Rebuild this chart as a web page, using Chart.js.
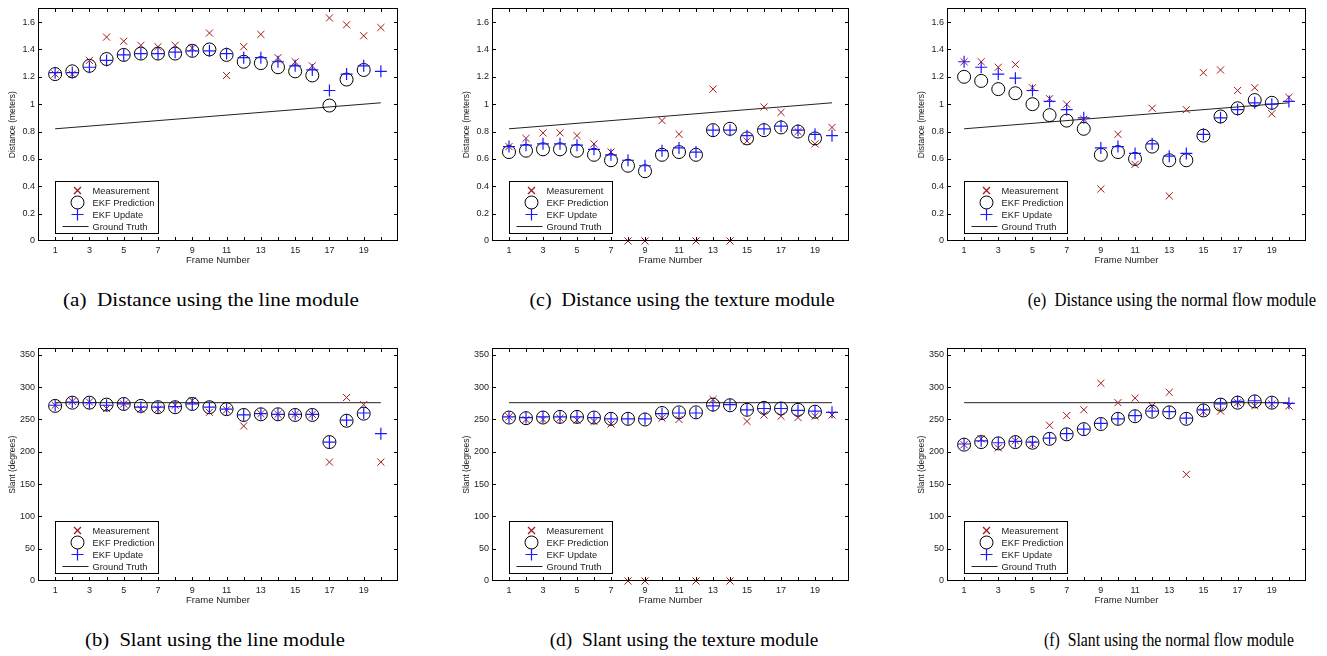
<!DOCTYPE html>
<html>
<head>
<meta charset="utf-8">
<script src="https://cdn.jsdelivr.net/npm/chart.js@4.4.0/dist/chart.umd.min.js"></script>
<style>
body { margin: 0; background: #fff; width: 1327px; height: 656px; position: relative; overflow: hidden; }
canvas { position: absolute; }
.cap { position: absolute; width: 460px; text-align: center; font: 18px "Liberation Serif", "Times New Roman", serif; line-height: 22px; color: #000; white-space: nowrap; transform-origin: 50% 50%; }
</style>
</head>
<body>
<canvas id="distLine" width="410" height="270" style="left:0px;top:0px"></canvas>
<canvas id="distTex" width="407" height="270" style="left:454px;top:0px"></canvas>
<canvas id="distFlow" width="409" height="270" style="left:909px;top:0px"></canvas>
<canvas id="slantLine" width="410" height="270" style="left:0px;top:340px"></canvas>
<canvas id="slantTex" width="407" height="270" style="left:454px;top:340px"></canvas>
<canvas id="slantFlow" width="409" height="270" style="left:909px;top:340px"></canvas>

<div class="cap" style="left:-19px;top:289px;transform:scaleX(1.175)">(a)&nbsp; Distance using the line module</div>
<div class="cap" style="left:452px;top:289px;transform:scaleX(1.11)">(c)&nbsp; Distance using the texture module</div>
<div class="cap" style="left:942px;top:289px;transform:scaleX(0.92)">(e)&nbsp; Distance using the normal flow module</div>
<div class="cap" style="left:-15px;top:629px;transform:scaleX(1.145)">(b)&nbsp; Slant using the line module</div>
<div class="cap" style="left:454px;top:629px;transform:scaleX(1.075)">(d)&nbsp; Slant using the texture module</div>
<div class="cap" style="left:939px;top:629px;transform:scaleX(0.875)">(f)&nbsp; Slant using the normal flow module</div>

<script>
// frames on the x axis
const frames = [1, 2, 3, 4, 5, 6, 7, 8, 9, 10, 11, 12, 13, 14, 15, 16, 17, 18, 19, 20];

// distance (meters)
const distLineMeas = [1.22, 1.22, 1.32, 1.49, 1.46, 1.43, 1.42, 1.43, 1.41, 1.52, 1.21, 1.42, 1.51, 1.34, 1.31, 1.28, 1.63, 1.58, 1.50, 1.56];
const distLinePred = [1.22, 1.24, 1.28, 1.33, 1.36, 1.37, 1.37, 1.37, 1.39, 1.40, 1.36, 1.31, 1.30, 1.27, 1.24, 1.21, 0.99, 1.18, 1.25, null];
const distLineUpd  = [1.23, 1.23, 1.27, 1.32, 1.36, 1.37, 1.37, 1.38, 1.39, 1.39, 1.37, 1.34, 1.34, 1.31, 1.28, 1.25, 1.10, 1.22, 1.28, 1.24];

const distTexMeas = [0.69, 0.75, 0.79, 0.79, 0.77, 0.71, 0.65, 0, 0, 0.88, 0.78, 0, 1.11, 0, 0.73, 0.98, 0.94, 0.80, 0.71, 0.83];
const distTexPred = [0.65, 0.66, 0.67, 0.67, 0.66, 0.63, 0.59, 0.55, 0.51, 0.63, 0.65, 0.63, 0.81, 0.82, 0.75, 0.81, 0.83, 0.80, 0.75, null];
const distTexUpd  = [0.69, 0.70, 0.71, 0.71, 0.70, 0.67, 0.63, 0.59, 0.55, 0.66, 0.68, 0.65, 0.81, 0.81, 0.77, 0.82, 0.84, 0.81, 0.78, 0.77];

const distFlowMeas = [1.31, 1.31, 1.27, 1.29, 1.12, 1.04, 1.00, 0.89, 0.38, 0.78, 0.56, 0.97, 0.33, 0.96, 1.23, 1.25, 1.10, 1.12, 0.93, 1.05];
const distFlowPred = [1.20, 1.17, 1.11, 1.08, 1.00, 0.92, 0.88, 0.82, 0.63, 0.65, 0.60, 0.69, 0.59, 0.59, 0.77, 0.91, 0.97, 1.03, 1.01, null];
const distFlowUpd  = [1.31, 1.27, 1.22, 1.19, 1.10, 1.02, 0.96, 0.90, 0.68, 0.69, 0.64, 0.71, 0.62, 0.64, 0.78, 0.90, 0.96, 1.01, 1.00, 1.02];

// slant (degrees)
const slantLineMeas = [272, 278, 277, 267, 274, 266, 266, 272, 279, 261, 265, 240, 259, 258, 258, 258, 184, 284, 273, 184];
const slantLinePred = [271, 276, 276, 273, 274, 271, 269, 269, 274, 269, 266, 257, 258, 258, 257, 257, 215, 248, 259, null];
const slantLineUpd  = [272, 277, 276, 272, 274, 269, 269, 270, 274, 269, 266, 257, 259, 258, 258, 258, 215, 249, 260, 228];

const slantTexMeas = [254, 250, 250, 252, 249, 247, 243, 0, 0, 252, 250, 0, 281, 0, 247, 257, 255, 253, 255, 257];
const slantTexPred = [253, 252, 253, 254, 254, 253, 251, 251, 250, 260, 261, 261, 273, 272, 265, 268, 267, 265, 262, null];
const slantTexUpd  = [254, 253, 254, 254, 254, 253, 251, 251, 251, 259, 260, 260, 271, 273, 265, 267, 267, 264, 263, 261];

const slantFlowMeas = [211, 220, 206, 217, 212, 241, 256, 265, 306, 276, 283, 271, 292, 165, 262, 263, 276, 271, 274, 271];
const slantFlowPred = [211, 215, 213, 215, 214, 220, 227, 235, 243, 251, 255, 262, 261, 251, 264, 273, 276, 278, 276, null];
const slantFlowUpd  = [212, 217, 214, 216, 215, 221, 228, 235, 244, 251, 256, 263, 262, 252, 265, 274, 278, 279, 276, 275];

// ground truth end points
const gtFrames = [1, 20];
const gtDist = [0.82, 1.01];
const gtSlant = [276, 276];

const legendLabels = ['Measurement', 'EKF Prediction', 'EKF Update', 'Ground Truth'];

const FONT = '"Liberation Sans", Arial, sans-serif';
const TXT = '#222';
const RED = '#a31818';
const BLUE = '#1a1aff';

function pts(xs, ys) {
    return xs.map((x, i) => ({ x: x, y: ys[i] })).filter(p => p.y !== null);
}

function drawMark(ctx, kind, x, y) {
    ctx.save();
    ctx.beginPath();
    if (kind === 'meas') {
        const d = 3.5;
        ctx.moveTo(x - d, y - d); ctx.lineTo(x + d, y + d);
        ctx.moveTo(x - d, y + d); ctx.lineTo(x + d, y - d);
        ctx.strokeStyle = RED; ctx.lineWidth = 1.3;
    } else if (kind === 'pred') {
        ctx.arc(x, y, 6.5, 0, Math.PI * 2);
        ctx.strokeStyle = '#000'; ctx.lineWidth = 1;
    } else if (kind === 'upd') {
        ctx.moveTo(x - 6, y); ctx.lineTo(x + 6, y);
        ctx.moveTo(x, y - 6); ctx.lineTo(x, y + 6);
        ctx.strokeStyle = BLUE; ctx.lineWidth = 1.2;
    } else {
        ctx.moveTo(x - 15, y); ctx.lineTo(x + 11, y);
        ctx.strokeStyle = '#222'; ctx.lineWidth = 1;
    }
    ctx.stroke();
    ctx.restore();
}

// box round the axes, inward ticks, legend
const matlabFrame = {
    id: 'matlabFrame',
    afterDraw(chart) {
        const ctx = chart.ctx;
        const a = chart.chartArea;
        const xs = chart.scales.x, ys = chart.scales.y;
        const L = Math.round(a.left) + 0.5, R = Math.round(a.right) - 0.5;
        const T = Math.round(a.top) + 0.5, B = Math.round(a.bottom) - 0.5;
        ctx.save();
        ctx.strokeStyle = '#000';
        ctx.lineWidth = 1;
        ctx.beginPath();
        xs.ticks.forEach(t => {
            if (t.value <= xs.min || t.value >= xs.max) return;
            const px = Math.round(xs.getPixelForValue(t.value)) + 0.5;
            ctx.moveTo(px, B); ctx.lineTo(px, B - 3.5);
            ctx.moveTo(px, T); ctx.lineTo(px, T + 3.5);
        });
        ys.ticks.forEach(t => {
            if (t.value <= ys.min || t.value >= ys.max) return;
            const py = Math.round(ys.getPixelForValue(t.value)) + 0.5;
            ctx.moveTo(L, py); ctx.lineTo(L + 3.5, py);
            ctx.moveTo(R, py); ctx.lineTo(R - 3.5, py);
        });
        ctx.stroke();
        ctx.strokeRect(L, T, R - L, B - T);

        // legend box
        const x0 = Math.round(a.left) + 17.5, w = 103, h = 52;
        const y0 = Math.round(a.bottom) - 7.5 - h;
        ctx.fillStyle = '#fff';
        ctx.fillRect(x0, y0, w, h);
        ctx.strokeStyle = '#000';
        ctx.strokeRect(x0, y0, w, h);
        const kinds = ['meas', 'pred', 'upd', 'gt'];
        kinds.forEach((k, i) => {
            const cy = y0 + 9 + 12 * i;
            drawMark(ctx, k, x0 + 22, cy);
            ctx.font = '9.3px ' + FONT;
            ctx.textBaseline = 'middle';
            ctx.fillStyle = TXT;
            ctx.fillText(legendLabels[i], x0 + 37, cy + 0.5);
        });
        ctx.restore();
    }
};

function makePanel(id, meas, pred, upd, gt, yMax, yStep, yTitle) {
    return new Chart(document.getElementById(id), {
        type: 'scatter',
        data: {
            datasets: [
                {
                    label: legendLabels[2],
                    data: pts(frames, upd),
                    pointStyle: 'cross',
                    pointRadius: 6,
                    borderColor: BLUE,
                    backgroundColor: BLUE,
                    borderWidth: 1.2,
                    clip: false,
                    order: 1
                },
                {
                    label: legendLabels[1],
                    data: pts(frames, pred),
                    pointStyle: 'circle',
                    pointRadius: 6.5,
                    borderColor: '#000',
                    backgroundColor: 'rgba(0,0,0,0)',
                    borderWidth: 1,
                    clip: false,
                    order: 2
                },
                {
                    label: legendLabels[0],
                    data: pts(frames, meas),
                    pointStyle: 'crossRot',
                    pointRadius: 5,
                    borderColor: RED,
                    backgroundColor: RED,
                    borderWidth: 1,
                    clip: false,
                    order: 3
                },
                {
                    label: legendLabels[3],
                    data: pts(gtFrames, gt),
                    showLine: true,
                    pointRadius: 0,
                    borderColor: '#222',
                    borderWidth: 1,
                    fill: false,
                    order: 4
                }
            ]
        },
        options: {
            responsive: false,
            animation: false,
            events: [],
            layout: { padding: { top: 5, right: 12, left: 0, bottom: 0 } },
            plugins: {
                legend: { display: false },
                tooltip: { enabled: false }
            },
            scales: {
                x: {
                    type: 'linear',
                    min: 0,
                    max: 21,
                    afterFit(s) { s.height = 29; },
                    grid: { display: false, drawTicks: false },
                    border: { display: false },
                    ticks: {
                        stepSize: 1,
                        autoSkip: false,
                        maxRotation: 0,
                        padding: 4,
                        color: TXT,
                        font: { family: FONT, size: 9 },
                        callback: v => (v % 2 === 1 && v < 20) ? String(v) : ''
                    },
                    title: {
                        display: true,
                        text: 'Frame Number',
                        color: TXT,
                        font: { family: FONT, size: 9.5 },
                        padding: { top: 0, bottom: 4 }
                    }
                },
                y: {
                    min: 0,
                    max: yMax,
                    afterFit(s) { s.width = 38; },
                    grid: { display: false, drawTicks: false },
                    border: { display: false },
                    ticks: {
                        stepSize: yStep,
                        includeBounds: false,
                        padding: 3,
                        color: TXT,
                        font: { family: FONT, size: 9 },
                        callback: v => String(Math.round(v * 10) / 10)
                    },
                    title: {
                        display: true,
                        text: yTitle,
                        color: TXT,
                        font: { family: FONT, size: 8.5 },
                        padding: { top: 8, bottom: 0 }
                    }
                }
            }
        },
        plugins: [matlabFrame]
    });
}

makePanel('distLine', distLineMeas, distLinePred, distLineUpd, gtDist, 1.7, 0.2, 'Distance (meters)');
makePanel('distTex', distTexMeas, distTexPred, distTexUpd, gtDist, 1.7, 0.2, 'Distance (meters)');
makePanel('distFlow', distFlowMeas, distFlowPred, distFlowUpd, gtDist, 1.7, 0.2, 'Distance (meters)');
makePanel('slantLine', slantLineMeas, slantLinePred, slantLineUpd, gtSlant, 360, 50, 'Slant (degrees)');
makePanel('slantTex', slantTexMeas, slantTexPred, slantTexUpd, gtSlant, 360, 50, 'Slant (degrees)');
makePanel('slantFlow', slantFlowMeas, slantFlowPred, slantFlowUpd, gtSlant, 360, 50, 'Slant (degrees)');
</script>
</body>
</html>
